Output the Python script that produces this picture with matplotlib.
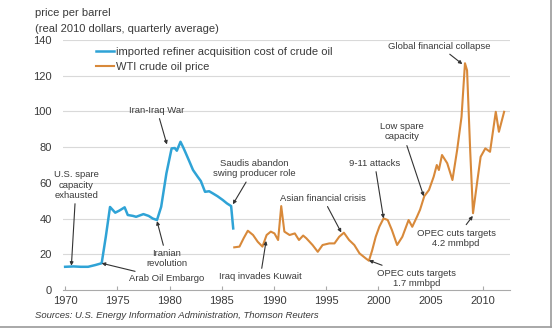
import numpy as np
import matplotlib.pyplot as plt
from matplotlib.patches import Rectangle

plt.rcParams['font.family'] = ['Liberation Sans', 'DejaVu Sans']

# imported refiner acquisition cost of crude oil (real 2010 $/bbl)
rac_year = [1970.0, 1970.8, 1971.5, 1972.2, 1972.9, 1973.5, 1973.9, 1974.3, 1974.8,
            1975.2, 1975.7, 1976.0, 1976.5, 1976.8, 1977.5, 1978.0, 1978.4, 1978.8,
            1979.2, 1979.7, 1980.2, 1980.5, 1980.7, 1981.05, 1981.3, 1981.5, 1981.9,
            1982.25, 1982.7, 1983.0, 1983.4, 1983.8, 1984.15, 1984.6, 1985.1,
            1985.5, 1985.9, 1986.1]
rac_price = [13.0, 13.2, 13.0, 13.0, 14.0, 15.0, 30.0, 46.5, 43.3,
             44.5, 46.3, 42.0, 41.5, 41.0, 42.5, 41.5, 40.0, 39.2,
             46.6, 65.3, 79.3, 79.5, 78.0, 83.0, 80.0, 77.4, 72.0,
             67.2, 63.4, 61.0, 55.0, 55.3, 54.1, 52.5, 50.4,
             48.5, 47.0, 34.5]

# WTI crude oil price (real 2010 $/bbl)
wti_year = [1986.2, 1986.7, 1987.1, 1987.5, 1988.0, 1988.45, 1988.9, 1989.3, 1989.7,
            1990.05, 1990.4, 1990.7, 1991.0, 1991.5, 1992.0, 1992.4, 1992.8, 1993.1,
            1993.7, 1994.2, 1994.66, 1995.3, 1995.8, 1996.25, 1996.7, 1997.2, 1997.7,
            1998.2, 1998.8, 1999.1, 1999.4, 1999.75, 2000.1, 2000.5, 2000.9, 2001.3,
            2001.8, 2002.3, 2002.9, 2003.25, 2003.7, 2004.0, 2004.4, 2004.85, 2005.3,
            2005.6, 2005.8, 2006.1, 2006.6, 2007.1, 2007.55, 2007.97, 2008.3, 2008.5,
            2008.8, 2009.07, 2009.45, 2009.8, 2010.25, 2010.7, 2011.25, 2011.55, 2012.05]
wti_price = [23.9, 24.3, 29.0, 33.2, 30.8, 27.0, 24.3, 30.8, 32.7,
             31.7, 28.0, 47.0, 32.7, 30.8, 31.7, 28.0, 30.5, 29.0,
             25.2, 21.4, 25.2, 26.1, 26.1, 29.8, 32.1, 28.0, 25.2,
             20.5, 17.7, 16.4, 22.0, 29.8, 35.5, 40.1, 39.2, 33.6,
             25.2, 29.8, 39.2, 35.4, 41.0, 45.0, 52.5, 56.0, 63.4,
             70.0, 67.2, 75.6, 71.0, 61.6, 78.4, 97.0, 127.0, 123.0,
             78.0, 43.0, 59.7, 74.6, 79.3, 77.4, 99.8, 88.6, 99.8]

x_ticks = [1970, 1975, 1980, 1985, 1990, 1995, 2000, 2005, 2010]
y_ticks = [0, 20, 40, 60, 80, 100, 120, 140]

# (label, text position, point on the line)
notes = [
    ("U.S. spare\ncapacity\nexhausted", (1971.05, 58.8), (1970.6, 13.6)),
    ("Arab Oil Embargo", (1979.7, 6.2), (1973.5, 15.0)),
    ("Iranian\nrevolution", (1979.75, 17.4), (1978.8, 38.6)),
    ("Iran-Iraq War", (1978.8, 100.8), (1979.75, 81.5)),
    ("Saudis abandon\nswing producer role", (1988.1, 68.0), (1986.07, 48.0)),
    ("Iraq invades Kuwait", (1988.7, 7.3), (1989.25, 27.5)),
    ("Asian financial crisis", (1994.7, 51.5), (1996.45, 32.2)),
    ("9-11 attacks", (1999.65, 71.1), (2000.5, 40.1)),
    ("OPEC cuts targets\n1.7 mmbpd", (2003.65, 6.7), (1999.1, 16.6)),
    ("Low spare\ncapacity", (2002.3, 88.5), (2004.35, 52.5)),
    ("Global financial collapse", (2005.85, 136.6), (2008.05, 126.5)),
    ("OPEC cuts targets\n4.2 mmbpd", (2007.45, 29.1), (2009.05, 41.5)),
]

blue = '#2fa3d6'
orange = '#d8893a'
text_c = '#3a3a3a'
grid_c = '#d9d9d9'

fig = plt.figure(figsize=(5.53, 3.29), dpi=100)
ax = fig.add_axes([0.114, 0.1185, 0.808, 0.7599])

for y in y_ticks[1:]:
    ax.axhline(y, color=grid_c, lw=0.8, zorder=0)

ax.plot(rac_year, rac_price, color=blue, lw=1.8,
        label="imported refiner acquisition cost of crude oil", zorder=3)
ax.plot(wti_year, wti_price, color=orange, lw=1.5,
        label="WTI crude oil price", zorder=3)

ax.set_xlim(1969.8, 2012.6)
ax.set_ylim(0, 140)
ax.set_xticks(x_ticks)
ax.set_yticks(y_ticks)
ax.tick_params(axis='x', direction='in', length=3, color='#aaaaaa',
               labelsize=8, labelcolor=text_c, pad=4)
ax.tick_params(axis='y', length=0, labelsize=8, labelcolor=text_c, pad=8)
for side in ['top', 'right', 'left']:
    ax.spines[side].set_visible(False)
ax.spines['bottom'].set_color('#aaaaaa')
ax.spines['bottom'].set_linewidth(0.8)

for label, txt, pt in notes:
    ax.annotate(label, xy=pt, xytext=txt, ha='center', va='center',
                fontsize=6.8, color=text_c, linespacing=1.15,
                arrowprops=dict(arrowstyle='-|>', color='#333333', lw=0.8,
                                mutation_scale=5, shrinkA=1, shrinkB=0),
                zorder=4)

ax.legend(loc='upper left', bbox_to_anchor=(0.062, 0.995), frameon=False,
          fontsize=8, handlelength=1.6, handletextpad=0.15, borderpad=0,
          labelspacing=0.45, labelcolor=text_c)

fig.text(0.063, 0.975, "price per barrel", fontsize=8, color=text_c, va='top')
fig.text(0.063, 0.927, "(real 2010 dollars, quarterly average)", fontsize=8,
         color=text_c, va='top')
fig.text(0.063, 0.028, "Sources: U.S. Energy Information Administration, Thomson Reuters",
         fontsize=6.8, color=text_c, style='italic', va='bottom')

# thin frame on the right and bottom edges
fig.add_artist(plt.Line2D([0.9955, 0.9955], [0.007, 1.0], transform=fig.transFigure,
                          color='#9a9a9a', lw=1.2))
fig.add_artist(plt.Line2D([0.0, 0.9955], [0.007, 0.007], transform=fig.transFigure,
                          color='#9a9a9a', lw=1.2))

fig.savefig('out.png', dpi=100)
